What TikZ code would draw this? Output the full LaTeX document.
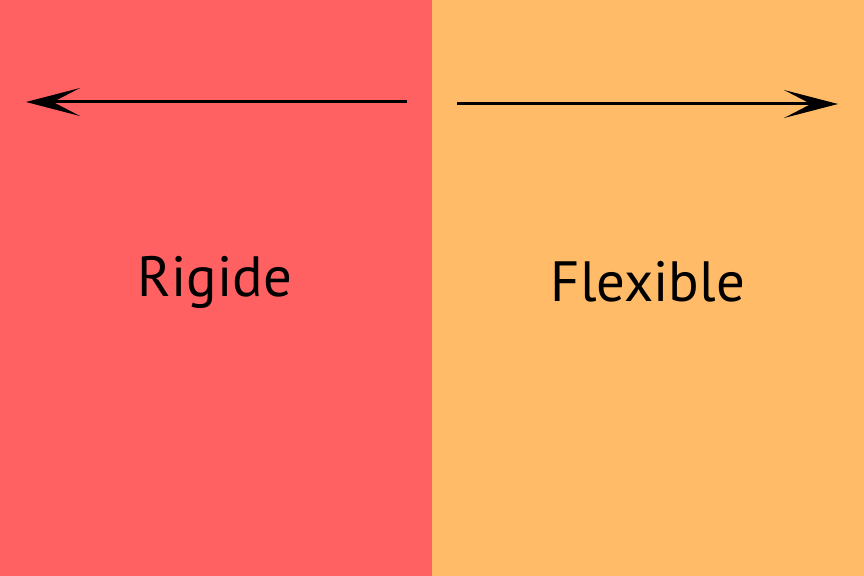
\documentclass[tikz,border=0pt]{standalone}
\usepackage{fontspec}
\setmainfont{PT Sans}
\usetikzlibrary{arrows.meta}
\definecolor{rigidred}{HTML}{FF6163}
\definecolor{flexorange}{HTML}{FFBB68}
\begin{document}
\begin{tikzpicture}[x=1bp,y=-1bp,
  arr/.style={line width=3bp,-{Stealth[length=54bp,width=28bp,inset=27bp]}},
  lbl/.style={font=\fontsize{57}{60}\selectfont,anchor=base,inner sep=0pt}]
\useasboundingbox (0,0) rectangle (864,576);
\fill[rigidred] (0,0) rectangle (432,576);
\fill[flexorange] (432,0) rectangle (864,576);
\coordinate (ls) at (407,102);
\coordinate (le) at (26,102);
\coordinate (rs) at (457,104);
\coordinate (re) at (838,104);
\draw[arr] (ls) -- (le);
\draw[arr] (rs) -- (re);
\node[lbl] (rigide) at (215,296) {Rigide};
\node[lbl] (flex) at (648,301) {Flexible};
\end{tikzpicture}
\end{document}
